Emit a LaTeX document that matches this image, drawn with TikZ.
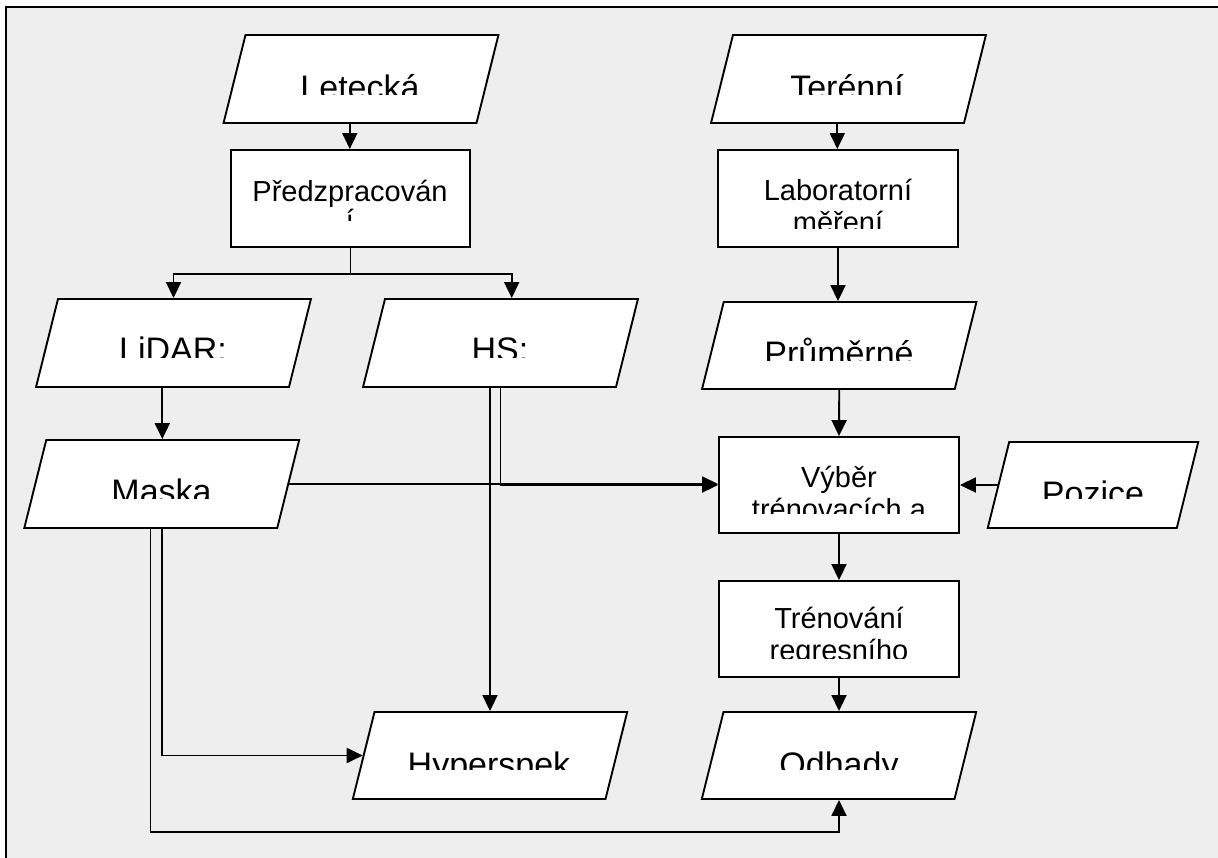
\documentclass[tikz,border=0pt]{standalone}
\usepackage{fontspec}
\setmainfont{Liberation Sans}
\usetikzlibrary{shapes.geometric,arrows.meta}
\definecolor{panel}{HTML}{EEEEEE}
\tikzset{
  databox/.style={trapezium, trapezium left angle=76, trapezium right angle=104,
    draw, fill=white, inner xsep=115.5pt, inner ysep=44pt},
  stepbox/.style={rectangle, draw, fill=white, minimum width=240, minimum height=97, inner sep=0pt},
  bigtext/.style={font=\fontsize{34}{39}\selectfont},
  smalltext/.style={font=\fontsize{29}{32}\selectfont},
  flow/.style={-{Triangle[length=16pt,width=15pt]}}
}
% name, style, x, baseline (last line), clip line, text
\newcommand\cliplabel[6]{%
  \begin{scope}
    \clip (#3-160,#5-120) rectangle (#3+160,#5);
    \node[#2, anchor=base, align=center, inner sep=0pt] (#1) at (#3,#4) {#6};
  \end{scope}}

\begin{document}
\begin{tikzpicture}[x=1pt,y=-1pt,line width=1.9pt]
\useasboundingbox (0,0) rectangle (1218,857);
\fill [panel] (6,7) rectangle (1224,863);
\draw [line width=2pt] (6,7) rectangle (1224,863);

\node [databox] (letecka) at (361,79) {};
\node [databox] (terenni) at (848.5,79) {};
\node [stepbox, minimum width=239] (predzp) at (350.5,198.5) {};
\node [stepbox] (lab) at (838,198.5) {};
\node [databox] (lidar) at (173.5,343) {};
\node [databox] (hs) at (500.5,343) {};
\node [databox, inner ysep=43.5pt] (prumerne) at (839.25,345.5) {};
\node [databox] (maska) at (161.75,484) {};
\node [stepbox, minimum height=96] (vyber) at (839,485) {};
\node [databox, inner xsep=83.8pt, inner ysep=43pt] (pozice) at (1093,485) {};
\node [stepbox, minimum height=96] (treno) at (839,629) {};
\node [databox, inner ysep=43.5pt] (hyper) at (490,755.5) {};
\node [databox, inner ysep=43.5pt] (odhady) at (839,755.5) {};

\draw [flow] (letecka.bottom side) -- (letecka.bottom side |- predzp.north);
\draw [flow] (terenni.bottom side) -- (terenni.bottom side |- lab.north);
\draw [flow] (predzp.south) -- ++(0,26) -| (lidar.center |- lidar.north);
\draw [flow] (predzp.south) -- ++(0,26) -| (hs.top side);
\draw [flow] (lidar.bottom side) -- (lidar.bottom side |- maska.north);
\draw [flow] (lab.south) -- (lab.south |- prumerne.north);
\draw [flow] (prumerne.center |- prumerne.south) -- (vyber.north);
\draw [flow] (maska.right side) -- (maska.right side -| vyber.west);
\draw [flow] (hs.center |- hs.south) |- (vyber.west);
\draw [flow] (hyper.center |- hs.south) -- (hyper.center |- hyper.north);
\draw [flow] (maska.center |- maska.south) |- (hyper.left side);
\draw [flow] (maska.bottom side) -- ++(0,303) -| (odhady.center |- odhady.south);
\draw [flow] (pozice.left side) -- (vyber.east);
\draw [flow] (vyber.south) -- (treno.north);
\draw [flow] (treno.south) -- (odhady.center |- odhady.north);

\cliplabel{letecka-t}{bigtext}{360}{99}{94}{Letecká}
\cliplabel{terenni-t}{bigtext}{847}{99}{94}{Terénní}
\cliplabel{predzp-t}{smalltext}{350}{230}{220}{Předzpracován\\[-3pt]í}
\cliplabel{lab-t}{smalltext}{838}{232}{228}{Laboratorní\\měření}
\cliplabel{lidar-t}{bigtext}{173}{361}{357}{LiDAR:}
\cliplabel{hs-t}{bigtext}{500}{361}{357}{HS:}
\cliplabel{prumerne-t}{bigtext}{839}{365}{360}{Průměrné}
\cliplabel{maska-t}{bigtext}{161.5}{503}{498}{Maska}
\cliplabel{vyber-t}{smalltext}{839}{519}{513}{Výběr\\trénovacích a}
\cliplabel{pozice-t}{bigtext}{1093}{505}{498}{Pozice}
\cliplabel{treno-t}{smalltext}{839}{660}{658}{Trénování\\regresního}
\cliplabel{hyper-t}{bigtext}{489}{776}{769}{Hyperspek}
\cliplabel{odhady-t}{bigtext}{839}{776}{769}{Odhady}
\end{tikzpicture}
\end{document}
